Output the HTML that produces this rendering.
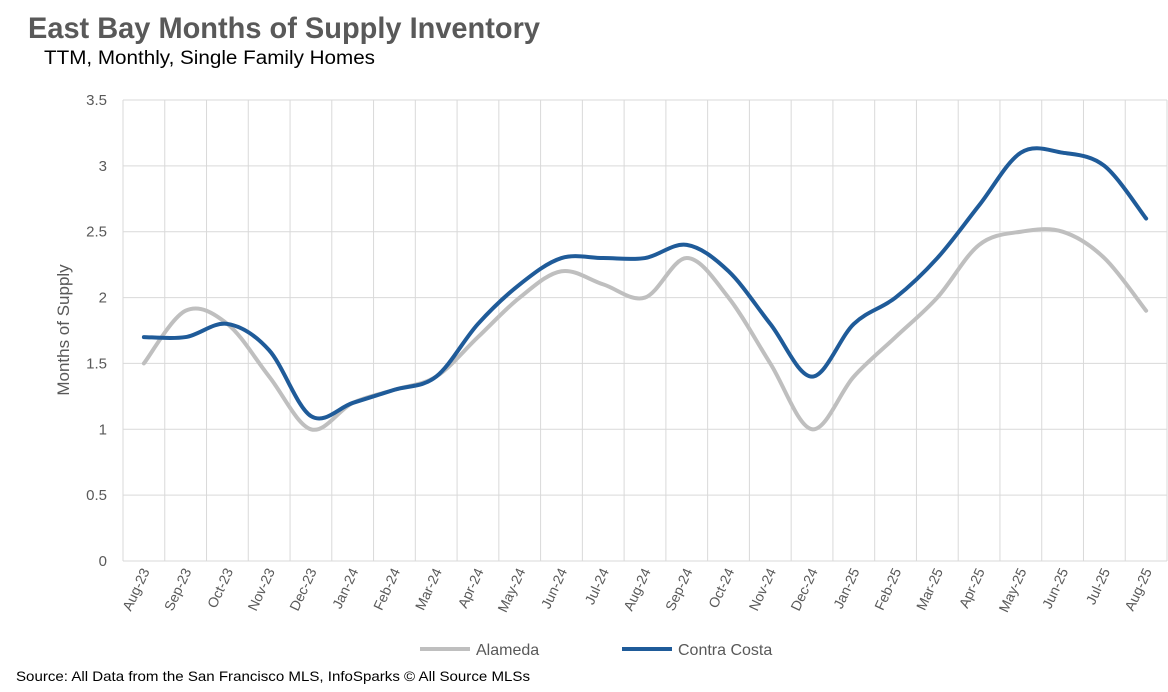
<!DOCTYPE html>
<html><head><meta charset="utf-8"><style>
body{margin:0;background:#fff;font-family:"Liberation Sans",sans-serif;}
#wrap{position:relative;width:1168px;height:692px;overflow:hidden;}
</style></head><body>
<div id="wrap">
<svg id="svg" width="1168" height="692" xmlns="http://www.w3.org/2000/svg">
<text x="28" y="38" font-size="30" font-weight="bold" fill="#595959" textLength="512" lengthAdjust="spacingAndGlyphs">East Bay Months of Supply Inventory</text>
<text x="44" y="64" font-size="19" fill="#000" textLength="331" lengthAdjust="spacingAndGlyphs">TTM, Monthly, Single Family Homes</text>
<text transform="translate(69,330) rotate(-90)" text-anchor="middle" font-size="17" fill="#595959">Months of Supply</text>
<g id="grid"></g><g id="lines"></g><g id="labels"></g>
<g>
<line x1="420" y1="649" x2="470" y2="649" stroke="#BFBFBF" stroke-width="4"/>
<text x="476" y="655" font-size="16" fill="#595959">Alameda</text>
<line x1="622" y1="649" x2="672" y2="649" stroke="#1F5B99" stroke-width="4"/>
<text x="678" y="655" font-size="16" fill="#595959">Contra Costa</text>
</g>
<text x="16" y="681" font-size="14" fill="#000" textLength="514" lengthAdjust="spacingAndGlyphs">Source: All Data from the San Francisco MLS, InfoSparks © All Source MLSs</text>
</svg></div>
<script>
const categories=["Aug-23","Sep-23","Oct-23","Nov-23","Dec-23","Jan-24","Feb-24","Mar-24","Apr-24","May-24","Jun-24","Jul-24","Aug-24","Sep-24","Oct-24","Nov-24","Dec-24","Jan-25","Feb-25","Mar-25","Apr-25","May-25","Jun-25","Jul-25","Aug-25"];
const alameda=[1.5,1.9,1.8,1.4,1.0,1.2,1.3,1.4,1.7,2.0,2.2,2.1,2.0,2.3,2.0,1.5,1.0,1.4,1.7,2.0,2.4,2.5,2.5,2.3,1.9];
const contraCosta=[1.7,1.7,1.8,1.6,1.1,1.2,1.3,1.4,1.8,2.1,2.3,2.3,2.3,2.4,2.2,1.8,1.4,1.8,2.0,2.3,2.7,3.1,3.1,3.0,2.6];
const yTicks=[0,0.5,1,1.5,2,2.5,3,3.5];
const NS="http://www.w3.org/2000/svg";
const L=123,R=1167,T=100,B=561,yMax=3.5;
const step=(R-L)/categories.length;
const x=i=>L+step*(i+0.5);
const y=v=>B-(v/yMax)*(B-T);
const grid=document.getElementById('grid'),lines=document.getElementById('lines'),labels=document.getElementById('labels');
function mk(tag,attrs,parent){const e=document.createElementNS(NS,tag);for(const k in attrs)e.setAttribute(k,attrs[k]);parent.appendChild(e);return e;}
yTicks.forEach(t=>{
 const g=mk('line',{x1:L,x2:R,y1:y(t),y2:y(t),stroke:'#D9D9D9','stroke-width':1},grid);
 
 
 const tx=mk('text',{x:L-16,y:y(t)+5,'text-anchor':'end','font-size':15,fill:'#595959'},labels);
 tx.textContent=t;
 
 
});
for(let i=0;i<=categories.length;i++){
 const g=mk('line',{x1:L+step*i,x2:L+step*i,y1:T,y2:B,stroke:'#D9D9D9','stroke-width':1},grid);
 
 
}
categories.forEach((c,i)=>{
 const tx=mk('text',{transform:`translate(${x(i)+6},${B+10}) rotate(-65)`,'text-anchor':'end','font-size':14,fill:'#595959'},labels);
 tx.textContent=c;
 
 
});
function smooth(vals){
 const p=vals.map((v,i)=>[x(i),y(v)]);
 let d=`M${p[0][0]},${p[0][1]}`;
 for(let i=0;i<p.length-1;i++){
  const p0=p[i-1]||p[i],p1=p[i],p2=p[i+1],p3=p[i+2]||p[i+1];
  const c1=[p1[0]+(p2[0]-p0[0])/6,p1[1]+(p2[1]-p0[1])/6];
  const c2=[p2[0]-(p3[0]-p1[0])/6,p2[1]-(p3[1]-p1[1])/6];
  d+=` C${c1[0]},${c1[1]} ${c2[0]},${c2[1]} ${p2[0]},${p2[1]}`;
 }
 return d;
}
const a=mk('path',{d:smooth(alameda),fill:'none',stroke:'#BFBFBF','stroke-width':4,'stroke-linecap':'round'},lines);


const c=mk('path',{d:smooth(contraCosta),fill:'none',stroke:'#1F5B99','stroke-width':4,'stroke-linecap':'round'},lines);


</script>
</body></html>
